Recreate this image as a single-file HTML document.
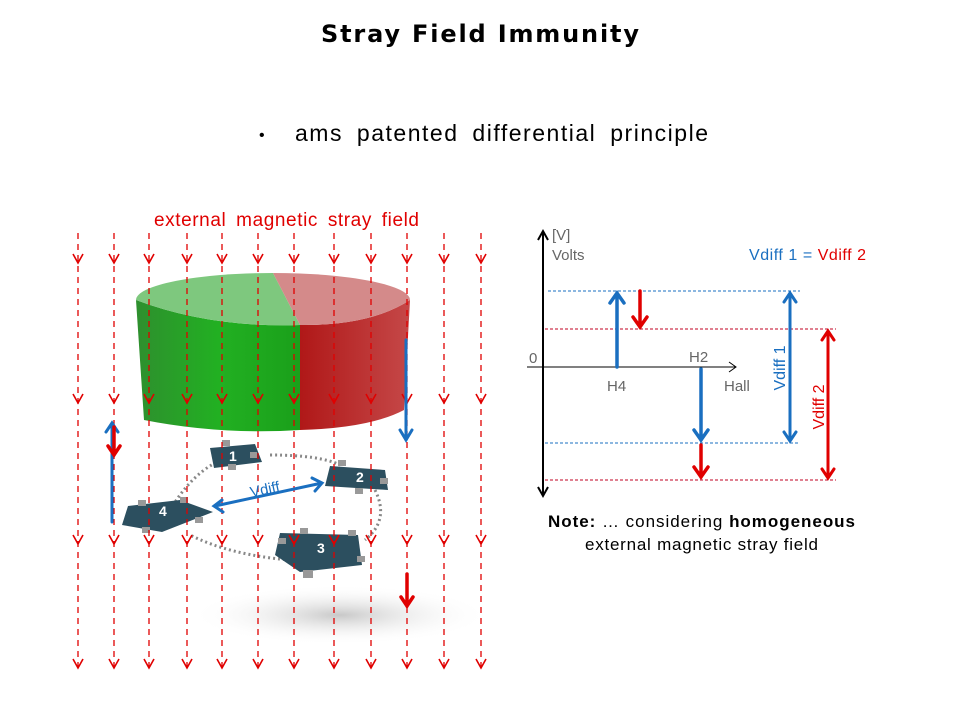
<!DOCTYPE html>
<html><head><meta charset="utf-8"><style>
body{margin:0;background:#fff;width:960px;height:720px;overflow:hidden;font-family:"Liberation Sans",sans-serif}
</style></head><body>
<svg width="960" height="720" viewBox="0 0 960 720" xmlns="http://www.w3.org/2000/svg" font-family="Liberation Sans, sans-serif">
<defs>
<linearGradient id="gs" x1="0" x2="1"><stop offset="0" stop-color="#2e8f2e"/><stop offset="0.5" stop-color="#22b022"/><stop offset="1" stop-color="#1aa01a"/></linearGradient>
<linearGradient id="rs" x1="0" x2="1"><stop offset="0" stop-color="#b01818"/><stop offset="1" stop-color="#c54848"/></linearGradient>
<radialGradient id="sh" cx="0.5" cy="0.5" r="0.5"><stop offset="0" stop-color="#c8c8c8"/><stop offset="1" stop-color="#fff" stop-opacity="0"/></radialGradient>
</defs>
<text x="480" y="42" text-anchor="middle" font-size="24" font-weight="bold" font-family="DejaVu Sans, sans-serif" textLength="318">Stray Field Immunity</text>
<text x="259" y="140" font-size="16">•</text>
<text x="295" y="141" font-size="23" textLength="413" word-spacing="6">ams patented differential  principle</text>

<ellipse cx="340" cy="615" rx="150" ry="30" fill="url(#sh)"/>
<path d="M136,300 L144,420 Q220,435 300,430 L300,325 Q210,328 136,300Z" fill="url(#gs)"/>
<path d="M300,325 L300,430 Q370,428 404,410 L410,300 Q370,326 300,325Z" fill="url(#rs)"/>
<path d="M136,300 A137,27 0 0 1 273,273 L300,325 Q210,328 136,300Z" fill="#7ec87e"/>
<path d="M273,273 A137,27 0 0 1 410,300 Q370,326 300,325Z" fill="#d48a8a"/>
<text x="154" y="226" font-size="19" fill="#e00000" textLength="265" word-spacing="4">external magnetic  stray field</text>
<path d="M170,510 Q200,460 240,455 M270,455 Q320,455 340,465 M375,490 Q390,520 365,540 M290,560 Q230,555 190,535" fill="none" stroke="#888" stroke-width="3" stroke-dasharray="2,3"/>
<g fill="#2c4f5f"><path d="M210,448 L255,444 L262,462 L214,468Z"/><path d="M330,466 L385,470 L388,490 L325,486Z"/><path d="M128,506 L180,500 L213,512 L162,532 L122,525Z"/><path d="M280,533 L358,535 L362,565 L300,572 L275,555Z"/></g>
<g fill="#999"><rect x="222" y="440" width="8" height="6"/><rect x="250" y="452" width="7" height="6"/><rect x="228" y="464" width="8" height="6"/><rect x="338" y="460" width="8" height="6"/><rect x="380" y="478" width="8" height="6"/><rect x="355" y="488" width="8" height="6"/><rect x="138" y="500" width="8" height="6"/><rect x="180" y="497" width="8" height="6"/><rect x="195" y="517" width="8" height="6"/><rect x="142" y="527" width="8" height="6"/><rect x="300" y="528" width="8" height="6"/><rect x="348" y="530" width="8" height="6"/><rect x="278" y="538" width="8" height="6"/><rect x="357" y="556" width="8" height="6"/><rect x="303" y="570" width="10" height="8"/></g>
<g fill="#fff" font-weight="bold" font-size="14"><text x="229" y="461">1</text><text x="356" y="482">2</text><text x="159" y="516">4</text><text x="317" y="553">3</text></g>
<g stroke="#e00000" stroke-width="1.3" stroke-dasharray="6,5">
<line x1="78" y1="233" x2="78" y2="668"/><line x1="114" y1="233" x2="114" y2="668"/><line x1="149" y1="233" x2="149" y2="668"/><line x1="187" y1="233" x2="187" y2="668"/><line x1="222" y1="233" x2="222" y2="668"/><line x1="258" y1="233" x2="258" y2="668"/><line x1="294" y1="233" x2="294" y2="668"/><line x1="334" y1="233" x2="334" y2="668"/><line x1="371" y1="233" x2="371" y2="668"/><line x1="407" y1="233" x2="407" y2="668"/><line x1="444" y1="233" x2="444" y2="668"/><line x1="481" y1="233" x2="481" y2="668"/>
</g>
<g fill="none" stroke="#e00000" stroke-width="1.6">
<path d="M73,254l5,9l5,-9M109,254l5,9l5,-9M144,254l5,9l5,-9M182,254l5,9l5,-9M217,254l5,9l5,-9M253,254l5,9l5,-9M289,254l5,9l5,-9M329,254l5,9l5,-9M366,254l5,9l5,-9M402,254l5,9l5,-9M439,254l5,9l5,-9M476,254l5,9l5,-9"/>
<path d="M73,394l5,9l5,-9M109,394l5,9l5,-9M144,394l5,9l5,-9M182,394l5,9l5,-9M217,394l5,9l5,-9M253,394l5,9l5,-9M289,394l5,9l5,-9M329,394l5,9l5,-9M366,394l5,9l5,-9M402,394l5,9l5,-9M439,394l5,9l5,-9M476,394l5,9l5,-9"/>
<path d="M73,535l5,9l5,-9M109,535l5,9l5,-9M144,535l5,9l5,-9M182,535l5,9l5,-9M217,535l5,9l5,-9M253,535l5,9l5,-9M289,535l5,9l5,-9M329,535l5,9l5,-9M366,535l5,9l5,-9M402,535l5,9l5,-9M439,535l5,9l5,-9M476,535l5,9l5,-9"/>
<path d="M73,659l5,9l5,-9M109,659l5,9l5,-9M144,659l5,9l5,-9M182,659l5,9l5,-9M217,659l5,9l5,-9M253,659l5,9l5,-9M289,659l5,9l5,-9M329,659l5,9l5,-9M366,659l5,9l5,-9M402,659l5,9l5,-9M439,659l5,9l5,-9M476,659l5,9l5,-9"/>
</g>
<g fill="none" stroke-linecap="round">
<path d="M406,340 L406,440 M400,430 L406,440 L412,430" stroke="#1a6fc0" stroke-width="3"/>
<path d="M112,522 L112,424 M106,432 L112,423 L118,432" stroke="#1a6fc0" stroke-width="3"/>
<path d="M114,427 L114,455 M108,446 L114,455 L120,446" stroke="#e00000" stroke-width="3.5"/>
<path d="M407,574 L407,606 M401,597 L407,606 L413,597" stroke="#e00000" stroke-width="3.5"/>
<path d="M215,506 L322,483 M222,500 L214,506 L223,512 M312,478 L322,483 L315,491" stroke="#1a6fc0" stroke-width="3"/>
</g>
<text x="250" y="495" font-size="15" fill="#1a6fc0" transform="rotate(-12 262 490)">Vdiff</text>

<g stroke-width="1" stroke-dasharray="3,2">
<line x1="548" y1="291" x2="800" y2="291" stroke="#1a6fc0"/>
<line x1="545" y1="329" x2="836" y2="329" stroke="#c00020"/>
<line x1="545" y1="443" x2="800" y2="443" stroke="#1a6fc0"/>
<line x1="545" y1="480" x2="836" y2="480" stroke="#c00020"/>
</g>
<g fill="none" stroke="#000" stroke-width="2"><path d="M543,231 L543,496 M538,240 L543,231 L548,240 M538,487 L543,496 L548,487"/></g>
<g fill="none" stroke="#000" stroke-width="1"><path d="M527,367 L736,367 M729,362 L736,367 L729,372"/></g>
<g fill="none" stroke-width="3.5" stroke-linecap="round">
<path d="M617,367 L617,294 M610,303 L617,293 L624,303" stroke="#1a6fc0"/>
<path d="M640,291 L640,327 M633,317 L640,327 L647,317" stroke="#e00000"/>
<path d="M701,369 L701,440 M694,430 L701,440 L708,430" stroke="#1a6fc0"/>
<path d="M701,445 L701,477 M694,467 L701,477 L708,467" stroke="#e00000"/>
<path d="M790,294 L790,440 M784,302 L790,293 L796,302 M784,432 L790,441 L796,432" stroke="#1a6fc0" stroke-width="3"/>
<path d="M828,332 L828,477 M822,340 L828,331 L834,340 M822,469 L828,478 L834,469" stroke="#e00000" stroke-width="3"/>
</g>
<g font-size="15" fill="#666">
<text x="552" y="240">[V]</text><text x="552" y="260">Volts</text>
<text x="529" y="363">0</text><text x="607" y="391">H4</text><text x="689" y="362">H2</text><text x="724" y="391">Hall</text>
</g>
<text x="749" y="260" font-size="16" fill="#1a6fc0" textLength="117">Vdiff 1 = <tspan fill="#e00000">Vdiff 2</tspan></text>
<text transform="translate(785,368) rotate(-90)" text-anchor="middle" font-size="16" fill="#1a6fc0">Vdiff 1</text>
<text transform="translate(824,407) rotate(-90)" text-anchor="middle" font-size="16" fill="#e00000">Vdiff 2</text>
<text x="548" y="527" font-size="17" textLength="307"><tspan font-weight="bold">Note:</tspan> … considering <tspan font-weight="bold">homogeneous</tspan></text>
<text x="585" y="550" font-size="17" textLength="233">external magnetic stray field</text>
</svg>
</body></html>
